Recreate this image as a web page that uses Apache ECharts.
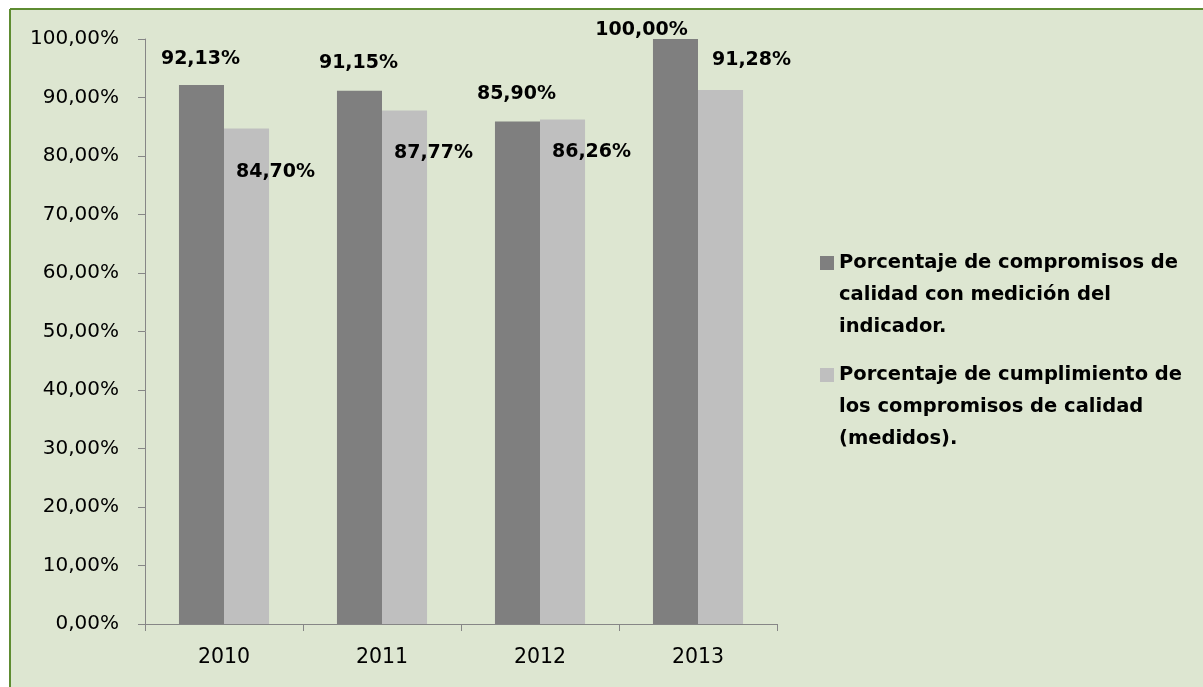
<!DOCTYPE html>
<html>
<head>
<meta charset="utf-8">
<script src="https://cdn.jsdelivr.net/npm/echarts@6/dist/echarts.min.js"></script>
<style>
html, body { margin: 0; padding: 0; background: #ffffff; }
#chart { width: 1203px; height: 687px; }
</style>
</head>
<body>
<div id="chart"></div>
<script>
// ---- data ----
var categories = ['2010', '2011', '2012', '2013'];
var seriesNames = [
  'Porcentaje de compromisos de\ncalidad con medición del\nindicador.',
  'Porcentaje de cumplimiento de\nlos compromisos de calidad\n(medidos).'
];
var medicionValues = [92.13, 91.15, 85.90, 100.00];
var cumplimientoValues = [84.70, 87.77, 86.26, 91.28];
var yTicks = [0, 10, 20, 30, 40, 50, 60, 70, 80, 90, 100];

// ---- label layout (pixel offsets, as placed in the original) ----
var medicionLabelOffsets = [[-1, -16.5], [-1, -18], [-1, -18], [-34, 1]];
var cumplimientoLabelOffsets = [[29, 52.7], [29, 52], [29, 42.5], [31, -20.5]];

function pct(v) { return v.toFixed(2).replace('.', ',') + '%'; }

function buildData(values, offsets) {
  return values.map(function (v, i) {
    return { value: v, label: { offset: offsets[i] } };
  });
}

var FONT = 'DejaVu Sans';
var BORDER = '#5E8C31';
var chart = echarts.init(document.getElementById('chart'), null, { renderer: 'canvas' });

chart.setOption({
  backgroundColor: '#ffffff',
  animation: false,
  graphic: [
    {
      type: 'rect', z: -100, silent: true,
      shape: { x: 10, y: 9, width: 1300, height: 800 },
      style: { fill: '#DDE6D1' }
    },
    {
      type: 'line', z: -99, silent: true,
      shape: { x1: 10, y1: 9, x2: 1210, y2: 9 },
      style: { stroke: BORDER, lineWidth: 2 }
    },
    {
      type: 'line', z: -99, silent: true,
      shape: { x1: 10, y1: 9, x2: 10, y2: 700 },
      style: { stroke: BORDER, lineWidth: 2 }
    }
  ],
  grid: { left: 145, right: 426, top: 39, bottom: 63 },
  legend: {
    orient: 'vertical',
    left: 820,
    top: 183,
    padding: 0,
    itemGap: -48,
    itemWidth: 14,
    itemHeight: 14,
    icon: 'rect',
    selectedMode: false,
    formatter: function (name) { return '\n\n' + name; },
    textStyle: {
      fontFamily: FONT,
      fontWeight: 'bold',
      fontSize: 19.5,
      color: '#000000',
      lineHeight: 32
    },
    data: seriesNames
  },
  xAxis: {
    type: 'category',
    data: categories,
    axisLine: { lineStyle: { color: '#868686', width: 1 } },
    axisTick: { show: true, alignWithLabel: false, length: 7, lineStyle: { color: '#868686' } },
    axisLabel: { color: '#000000', fontFamily: FONT, fontSize: 20.5, margin: 23 },
    splitLine: { show: false }
  },
  yAxis: {
    type: 'value',
    min: yTicks[0],
    max: yTicks[yTicks.length - 1],
    interval: yTicks[1] - yTicks[0],
    axisLine: { show: true, lineStyle: { color: '#868686', width: 1 } },
    axisTick: { show: true, length: 7, lineStyle: { color: '#868686' } },
    axisLabel: {
      color: '#000000', fontFamily: FONT, fontSize: 20, margin: 26,
      formatter: function (v) { return pct(v); }
    },
    splitLine: { show: false }
  },
  series: [
    {
      name: seriesNames[0],
      type: 'bar',
      data: buildData(medicionValues, medicionLabelOffsets),
      barGap: '0%',
      barCategoryGap: '43%',
      itemStyle: { color: '#7F7F7F' },
      label: {
        show: true, position: 'top', distance: 0,
        fontFamily: FONT, fontWeight: 'bold', fontSize: 19, color: '#000000',
        formatter: function (p) { return pct(p.value); }
      }
    },
    {
      name: seriesNames[1],
      type: 'bar',
      data: buildData(cumplimientoValues, cumplimientoLabelOffsets),
      barGap: '0%',
      barCategoryGap: '43%',
      itemStyle: { color: '#BFBFBF' },
      label: {
        show: true, position: 'top', distance: 0,
        fontFamily: FONT, fontWeight: 'bold', fontSize: 19, color: '#000000',
        formatter: function (p) { return pct(p.value); }
      }
    }
  ]
});
</script>
</body>
</html>
